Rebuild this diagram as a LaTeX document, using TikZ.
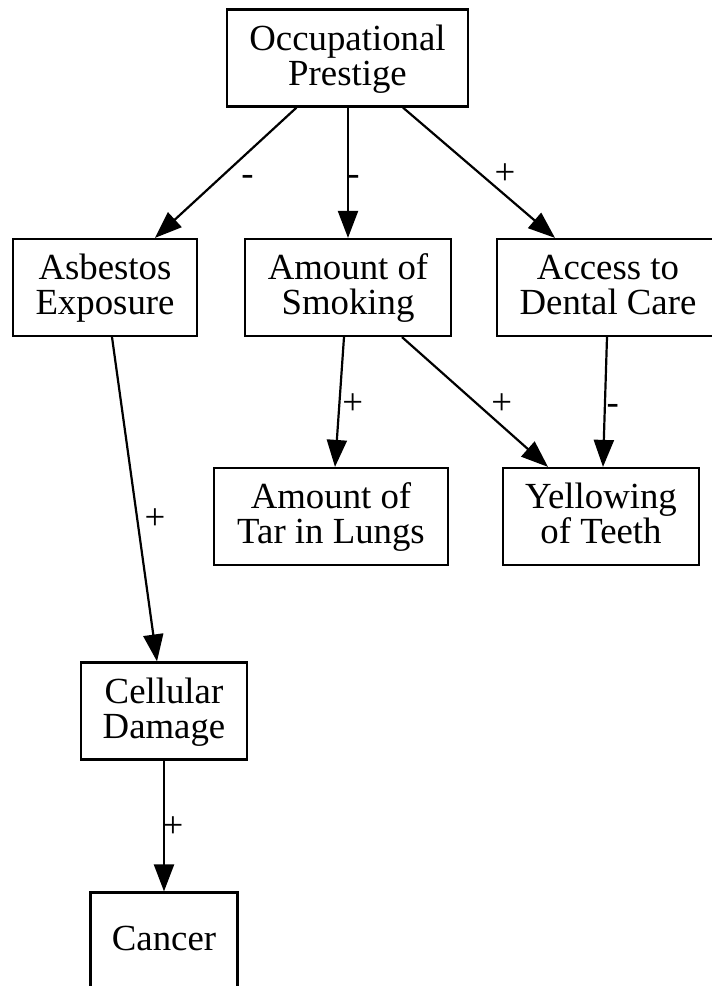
\documentclass[tikz,border=0pt]{standalone}
\usepackage{fontspec}
\setmainfont{Liberation Serif}
\usetikzlibrary{arrows.meta}
\newcommand{\lnstrut}{\rule[-8pt]{0pt}{35pt}}
\begin{document}
\begin{tikzpicture}[x=1pt,y=-1pt,
  box/.style={draw, line width=2.2pt, rectangle, inner sep=0pt, align=center,
    minimum height=97pt, font=\fontsize{36.8}{35}\selectfont},
  edge/.style={line width=2.2pt, -{Triangle[length=27pt,width=20pt]}},
  lab/.style={anchor=base, inner sep=0pt, font=\fontsize{36.8}{35}\selectfont}]
\useasboundingbox (0,0) rectangle (712,986);
\clip (0,0) rectangle (712,986);
% nodes
\node[box, minimum width=241pt] (op)  at (347.5,58)    {\lnstrut Occupational\\\lnstrut Prestige};
\node[box, minimum width=184pt] (as)  at (105,287.5)   {\lnstrut Asbestos\\\lnstrut Exposure};
\node[box, minimum width=206pt] (sm)  at (348,287.5)   {\lnstrut Amount of\\\lnstrut Smoking};
\node[box, minimum width=222pt] (ac)  at (608,287.5)   {\lnstrut Access to\\\lnstrut Dental Care};
\node[box, minimum width=234pt] (tar) at (331,516.5)   {\lnstrut Amount of\\\lnstrut Tar in Lungs};
\node[box, minimum width=196pt] (ye)  at (601,516.5)   {\lnstrut Yellowing\\\lnstrut of Teeth};
\node[box, minimum width=166pt] (ce)  at (164,711)     {\lnstrut Cellular\\\lnstrut Damage};
\node[box, minimum width=147pt] (ca)  at (164,941)     {\lnstrut Cancer};
% edges
\draw[edge] ([xshift=-51pt]op.south) -- ([xshift=50pt]as.north);
\draw[edge] ([xshift=0.5pt]op.south) -- (sm.north);
\draw[edge] ([xshift=55.5pt]op.south) -- ([xshift=-53pt]ac.north);
\draw[edge] ([xshift=-4pt]sm.south) -- ([xshift=4pt]tar.north);
\draw[edge] ([xshift=54pt]sm.south) -- ([xshift=-53pt]ye.north);
\draw[edge] ([xshift=-1pt]ac.south) -- ([xshift=2pt]ye.north);
\draw[edge] ([xshift=7pt]as.south) -- ([xshift=-7pt]ce.north);
\draw[edge] (ce.south) -- (ca.north);
% labels
\node[lab] (l1) at (247.5,185) {-};
\node[lab] (l2) at (353.5,185) {-};
\node[lab] (l3) at (505,184) {+};
\node[lab] (l4) at (352.7,414) {+};
\node[lab] (l5) at (501.7,414) {+};
\node[lab] (l6) at (612.7,414) {-};
\node[lab] (l7) at (155,529) {+};
\node[lab] (l8) at (173,837) {+};
\end{tikzpicture}
\end{document}
